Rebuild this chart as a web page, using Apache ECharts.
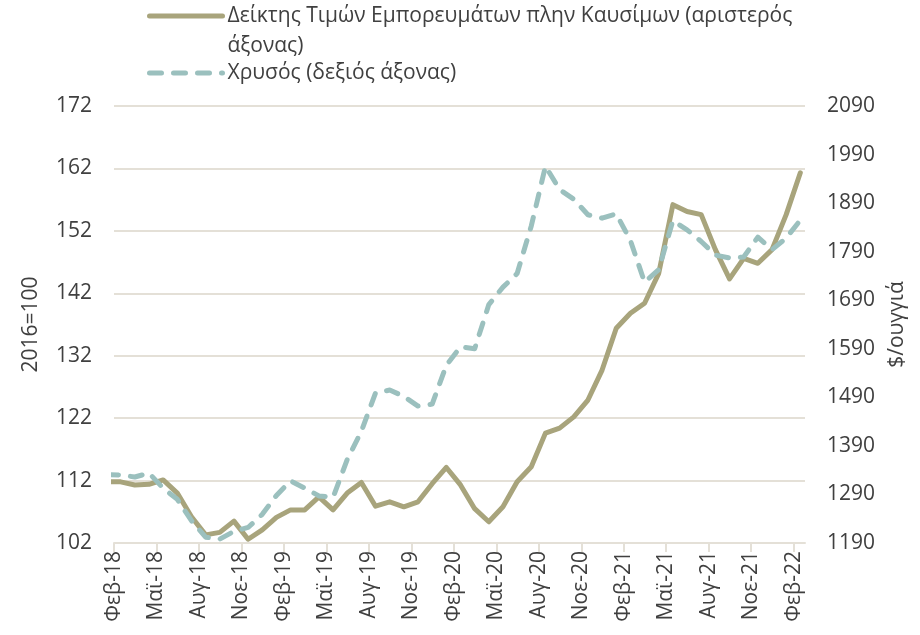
<!DOCTYPE html>
<html>
<head>
<meta charset="utf-8">
<script src="https://cdn.jsdelivr.net/npm/echarts@6/dist/echarts.min.js"></script>
<style>
  html, body { margin: 0; padding: 0; background: #fff; }
  #chart { width: 920px; height: 635px; }
</style>
</head>
<body>
<div id="chart"></div>
<script>
// months from Jan-18 (clipped at the left edge) to Feb-22
const months = [
  "Ιαν-18", "Φεβ-18", "Μαρ-18", "Απρ-18", "Μαϊ-18", "Ιουν-18", "Ιουλ-18", "Αυγ-18", "Σεπ-18", "Οκτ-18", "Νοε-18", "Δεκ-18",
  "Ιαν-19", "Φεβ-19", "Μαρ-19", "Απρ-19", "Μαϊ-19", "Ιουν-19", "Ιουλ-19", "Αυγ-19", "Σεπ-19", "Οκτ-19", "Νοε-19", "Δεκ-19",
  "Ιαν-20", "Φεβ-20", "Μαρ-20", "Απρ-20", "Μαϊ-20", "Ιουν-20", "Ιουλ-20", "Αυγ-20", "Σεπ-20", "Οκτ-20", "Νοε-20", "Δεκ-20",
  "Ιαν-21", "Φεβ-21", "Μαρ-21", "Απρ-21", "Μαϊ-21", "Ιουν-21", "Ιουλ-21", "Αυγ-21", "Σεπ-21", "Οκτ-21", "Νοε-21", "Δεκ-21",
  "Ιαν-22", "Φεβ-22",
];

const tickLabels = [
  "Φεβ-18", "Μαϊ-18", "Αυγ-18", "Νοε-18", "Φεβ-19", "Μαϊ-19", "Αυγ-19", "Νοε-19",
  "Φεβ-20", "Μαϊ-20", "Αυγ-20", "Νοε-20", "Φεβ-21", "Μαϊ-21", "Αυγ-21", "Νοε-21", "Φεβ-22",
];

// commodity price index excl. fuel, 2016=100 (left axis)
const commodityIndex = [
  111.8, 111.8, 111.3, 111.4, 112.1, 110.0, 106.2, 103.3, 103.7, 105.5, 102.6, 104.1,
  106.1, 107.3, 107.3, 109.4, 107.3, 110.0, 111.7, 107.9, 108.6, 107.8, 108.6, 111.5,
  114.1, 111.3, 107.5, 105.4, 107.8, 111.8, 114.2, 119.6, 120.4, 122.2, 124.9, 129.7,
  136.4, 138.8, 140.4, 145.2, 156.2, 155.1, 154.6, 149.0, 144.3, 147.6, 146.8, 149.0,
  154.6, 161.3,
];

// gold, $/oz (right axis)
const gold = [
  1331, 1330, 1326, 1334, 1303, 1280, 1236, 1202, 1198, 1214, 1222, 1249,
  1288, 1318, 1303, 1287, 1284, 1362, 1420, 1499, 1505, 1492, 1472, 1476,
  1556, 1594, 1590, 1681, 1717, 1745, 1843, 1966, 1918, 1898, 1866, 1859,
  1868, 1813, 1727, 1753, 1854, 1835, 1811, 1783, 1777, 1779, 1820, 1794,
  1818, 1855,
];

const seriesNames = [
  "Δείκτης Τιμών Εμπορευμάτων πλην Καυσίμων (αριστερός\nάξονας)",
  "Χρυσός (δεξιός άξονας)",
];

const FONT = "Open Sans";
const FS = 21;
const TEXT = "#404040";
const GRID = "#E4E0D7";

// x = months since 1 Feb 2018, points sit mid-month
const toX = (m) => m - 1 + 0.47;
const tickValues = tickLabels.map((l) => months.indexOf(l) - 1);

const legendBase = {
  left: 147, padding: 0,
  itemWidth: 73, itemHeight: 14,
  selectedMode: false,
  lineStyle: { width: 5, cap: "round" },
  // hide the marker dot, keep the line sample only
  itemStyle: { color: "rgba(0,0,0,0)", borderWidth: 0 },
  textStyle: { fontFamily: FONT, fontSize: FS, color: TEXT, lineHeight: 30 },
};

const label = { fontFamily: FONT, fontSize: FS, color: TEXT };

const option = {
  animation: false,
  textStyle: { fontFamily: FONT },
  grid: { left: 114, right: 115, top: 106, bottom: 92 },
  legend: [
    {
      ...legendBase,
      data: [seriesNames[0]],
      top: -29,
      // blank first line keeps the first text line level with the icon
      formatter: (name) => "\n" + name,
    },
    { ...legendBase, data: [seriesNames[1]], top: 58 },
  ],
  xAxis: {
    type: "value",
    min: 0,
    max: 48.8,
    axisLine: { lineStyle: { color: GRID, width: 2 } },
    axisTick: { customValues: tickValues, length: 9, lineStyle: { color: GRID, width: 2 } },
    axisLabel: {
      ...label,
      customValues: tickValues,
      formatter: (v) => months[v + 1],
      rotate: 90,
      margin: 8,
    },
    splitLine: { show: false },
  },
  yAxis: [
    {
      type: "value",
      min: 102, max: 172, interval: 10,
      name: "2016=100",
      nameLocation: "middle",
      nameRotate: 90,
      nameGap: 72,
      nameTextStyle: label,
      axisLine: { show: false },
      axisTick: { show: false },
      axisLabel: { ...label, margin: 22 },
      splitLine: { lineStyle: { color: GRID, width: 2 } },
    },
    {
      type: "value",
      min: 1190, max: 2090, interval: 100,
      name: "$/ουγγιά",
      nameLocation: "middle",
      nameRotate: 90,
      nameGap: 82,
      nameTextStyle: label,
      axisLine: { show: false },
      axisTick: { show: false },
      axisLabel: { ...label, margin: 22, formatter: (v) => String(v) },
      splitLine: { show: false },
    },
  ],
  series: [
    {
      name: seriesNames[0],
      type: "line",
      yAxisIndex: 0,
      symbol: "none",
      clip: true,
      lineStyle: { color: "#A8A47C", width: 5, join: "round", cap: "round" },
      itemStyle: { color: "#A8A47C" },
      data: commodityIndex.map((v, m) => [toX(m), v]),
    },
    {
      name: seriesNames[1],
      type: "line",
      yAxisIndex: 1,
      symbol: "none",
      clip: true,
      lineStyle: { color: "#9BC0BE", width: 5, type: [12, 12], cap: "round", join: "round" },
      itemStyle: { color: "#9BC0BE" },
      data: gold.map((v, m) => [toX(m), v]),
    },
  ],
};

const chart = echarts.init(document.getElementById("chart"));
chart.setOption(option);
window.addEventListener("resize", () => chart.resize());
</script>
</body>
</html>
